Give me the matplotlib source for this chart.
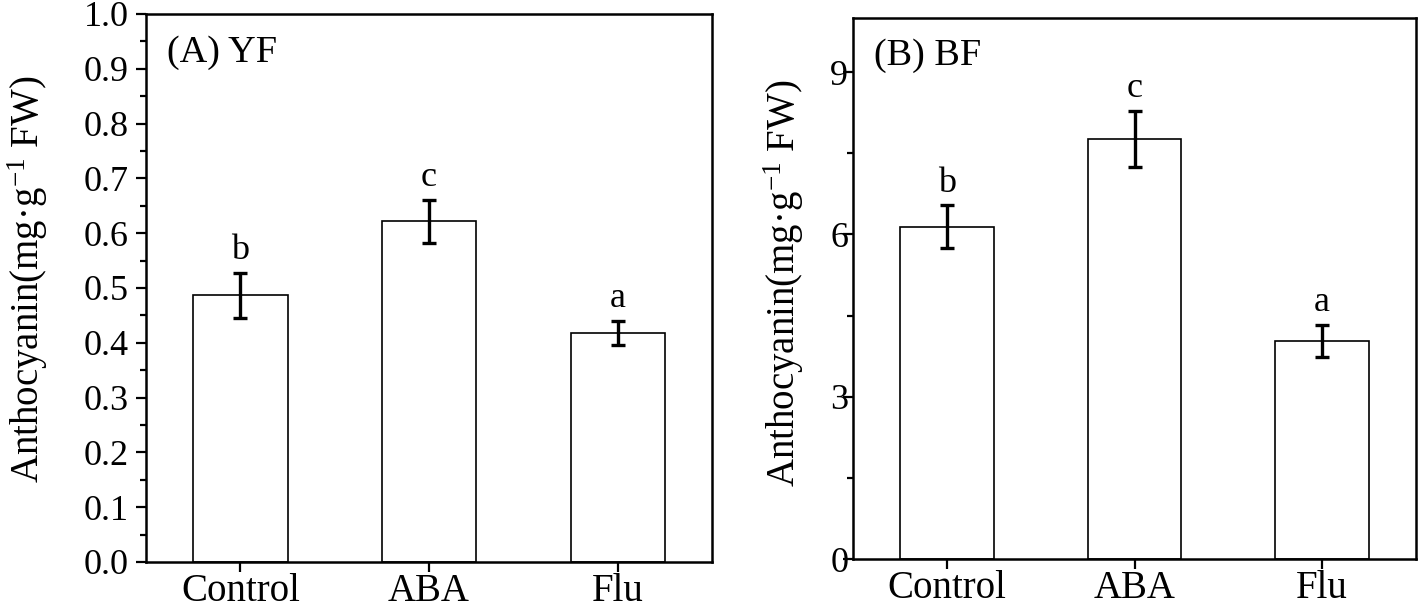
import matplotlib
matplotlib.use("Agg")
import matplotlib.pyplot as plt
from matplotlib.ticker import MultipleLocator, FormatStrFormatter

plt.rcParams['font.family'] = ['Liberation Serif', 'DejaVu Serif']
plt.rcParams['mathtext.fontset'] = 'custom'
plt.rcParams['mathtext.rm'] = 'Liberation Serif'
plt.rcParams['mathtext.it'] = 'Liberation Serif:italic'

# data
groups = ["Control", "ABA", "Flu"]
yf_mean = [0.487, 0.622, 0.418]
yf_err = [0.041, 0.039, 0.022]
yf_letters = ["b", "c", "a"]
bf_mean = [6.14, 7.77, 4.03]
bf_err = [0.40, 0.52, 0.30]
bf_letters = ["b", "c", "a"]

W, H = 1418, 608
fig = plt.figure(figsize=(W/100, H/100), dpi=100)
axA = fig.add_axes([146/W, (H-562)/H, (712-146)/W, (562-14)/H])
axB = fig.add_axes([853/W, (H-559)/H, (1416-853)/W, (559-18)/H])

ylab = "Anthocyanin(mg·g$^{-1}$ FW)"


def panel(ax, mean, err, letters, ylim, major, minor, fmt, title, labx, laby, ypad):
    x = range(len(groups))
    ax.bar(x, mean, width=0.5, color="white", edgecolor="black", linewidth=1.2, zorder=2)
    ax.errorbar(x, mean, yerr=err, fmt="none", ecolor="black", elinewidth=2.4,
                capsize=4.8, capthick=2.4, zorder=3)
    for i in x:
        ax.annotate(letters[i], (i, mean[i] + err[i]), xytext=(0, 4), textcoords="offset points",
                    ha="center", va="bottom", fontsize=26)
    ax.set_xlim(-0.5, 2.5)
    ax.set_ylim(*ylim)
    ax.set_xticks(list(x))
    ax.set_xticklabels(groups)
    ax.yaxis.set_major_locator(MultipleLocator(major))
    ax.yaxis.set_minor_locator(MultipleLocator(minor))
    ax.yaxis.set_major_formatter(FormatStrFormatter(fmt))
    ax.tick_params(axis="both", which="major", direction="out", length=7, width=1.6)
    ax.tick_params(axis="x", labelsize=28, pad=1)
    ax.tick_params(axis="y", labelsize=26, pad=ypad)
    ax.tick_params(axis="y", which="minor", direction="out", length=4.5, width=1.6)
    for s in ax.spines.values():
        s.set_linewidth(1.8)
    ax.set_ylabel(ylab, fontsize=28)
    ax.yaxis.set_label_coords(labx, laby)
    ax.text(0.037, 0.93, title, transform=ax.transAxes, fontsize=27.5, ha="left", va="center")


panel(axA, yf_mean, yf_err, yf_letters, (0, 1.0), 0.1, 0.05, "%.1f", "(A) YF", -0.17, 0.515, 5.5)
panel(axB, bf_mean, bf_err, bf_letters, (0, 10), 3, 1.5, "%d", "(B) BF", -0.083, 0.51, -3.5)

fig.savefig("out.png", dpi=100)
